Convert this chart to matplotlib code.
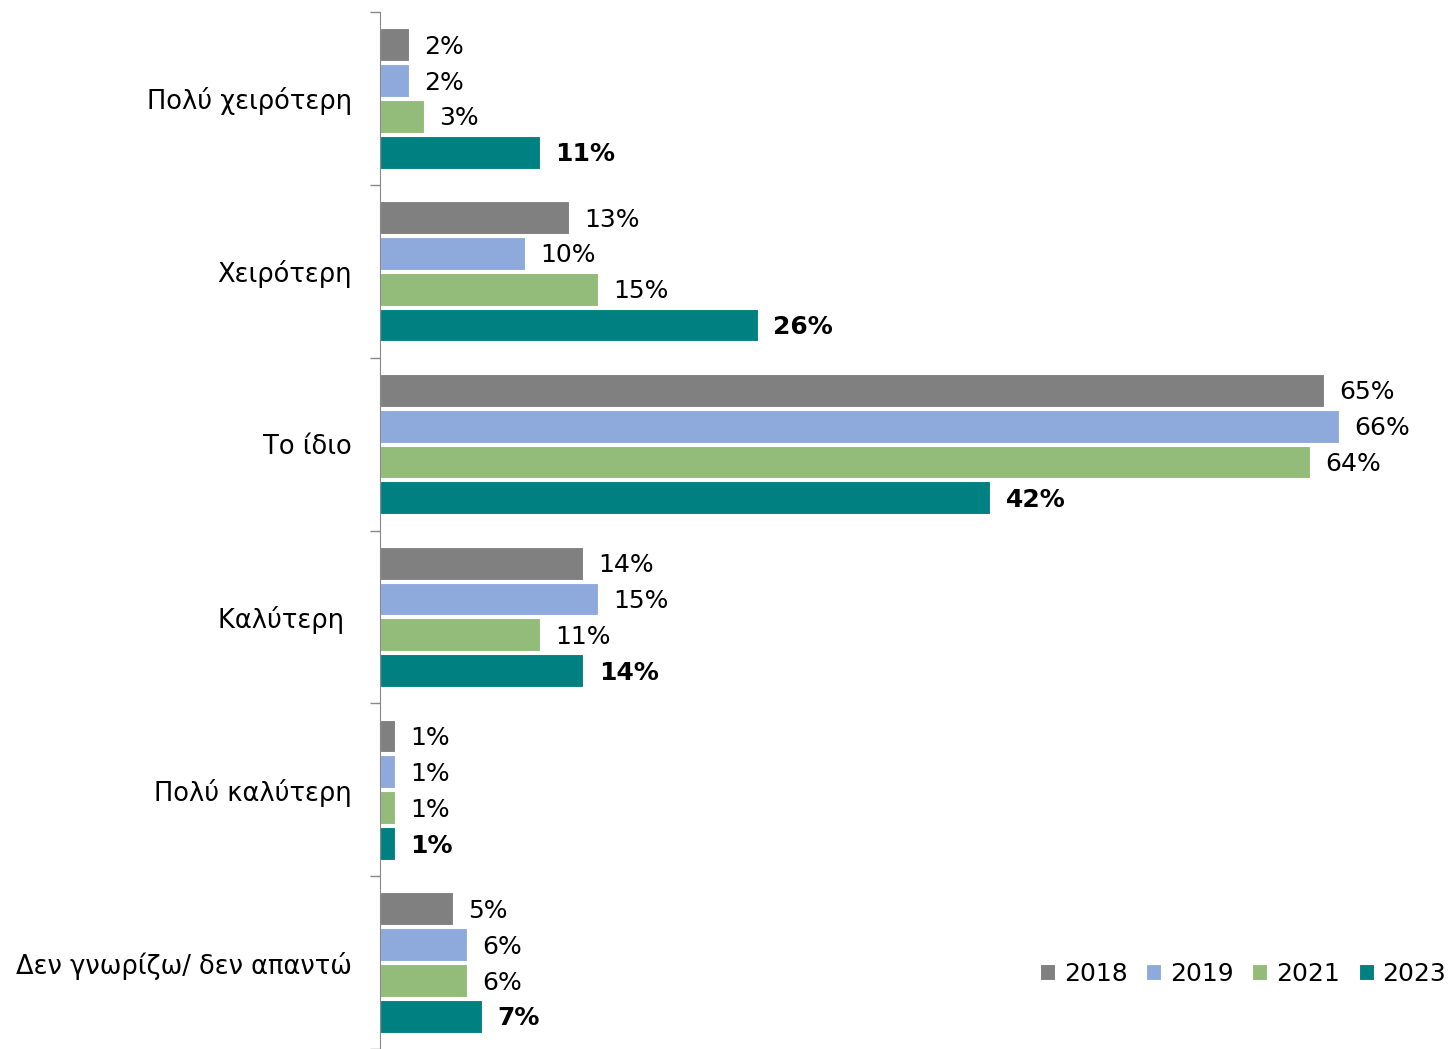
import numpy as np
import matplotlib.pyplot as plt
from matplotlib.ticker import FixedLocator

# ================================ Data ================================ #

categories = ["Πολύ χειρότερη", "Χειρότερη", "Το ίδιο", "Καλύτερη ", "Πολύ καλύτερη", "Δεν γνωρίζω/ δεν απαντώ"]
years = ["2018", "2019", "2021", "2023"]
v2018 = [2, 13, 65, 14, 1, 5]
v2019 = [2, 10, 66, 15, 1, 6]
v2021 = [3, 15, 64, 11, 1, 6]
v2023 = [11, 26, 42, 14, 1, 7]
colors = ["#808080", "#8eaadc", "#93bb79", "#008080"]

# ================================ Plot ================================ #

plt.rcParams['font.family'] = ['DejaVu Sans']
fig = plt.figure(figsize=(14.5, 10.49), dpi=100)
ax = fig.add_axes([380 / 1450, 0.0, 1017 / 1450, 1037 / 1049])

y = np.arange(len(categories))
pitch = 0.2076
height = 0.19
series = [v2018, v2019, v2021, v2023]
for i, (vals, col, yr) in enumerate(zip(series, colors, years)):
    pos = y + (i - 1.5) * pitch
    bars = ax.barh(pos, vals, height=height, color=col, edgecolor="white", linewidth=0.8, label=yr)
    for b, v in zip(bars, vals):
        ax.annotate(f"{v}%", (b.get_width(), b.get_y() + b.get_height() / 2),
                    xytext=(11, -1.5), textcoords="offset points", va="center", ha="left",
                    fontsize=18, fontweight="bold" if yr == "2023" else "normal")

ax.set_xlim(0, 70)
ax.set_ylim(len(categories) - 0.5, -0.5)
ax.set_yticks(y)
ax.set_yticklabels(categories, fontsize=18.5)
ax.yaxis.set_minor_locator(FixedLocator(np.arange(-0.5, len(categories), 1.0)))
ax.tick_params(axis="y", which="major", length=0, pad=20)
ax.tick_params(axis="y", which="minor", length=7, color="#888888", width=1)
ax.set_xticks([])
for s in ["top", "right", "bottom"]:
    ax.spines[s].set_visible(False)
ax.spines["left"].set_color("#888888")

fig.legend(loc="center right", bbox_to_anchor=(1446 / 1450, 1 - 974 / 1049), ncol=4, frameon=False,
           fontsize=18, handlelength=0.6, handleheight=0.6, handletextpad=0.35, columnspacing=0.75,
           borderaxespad=0, borderpad=0)

fig.savefig("out.png", dpi=100)
